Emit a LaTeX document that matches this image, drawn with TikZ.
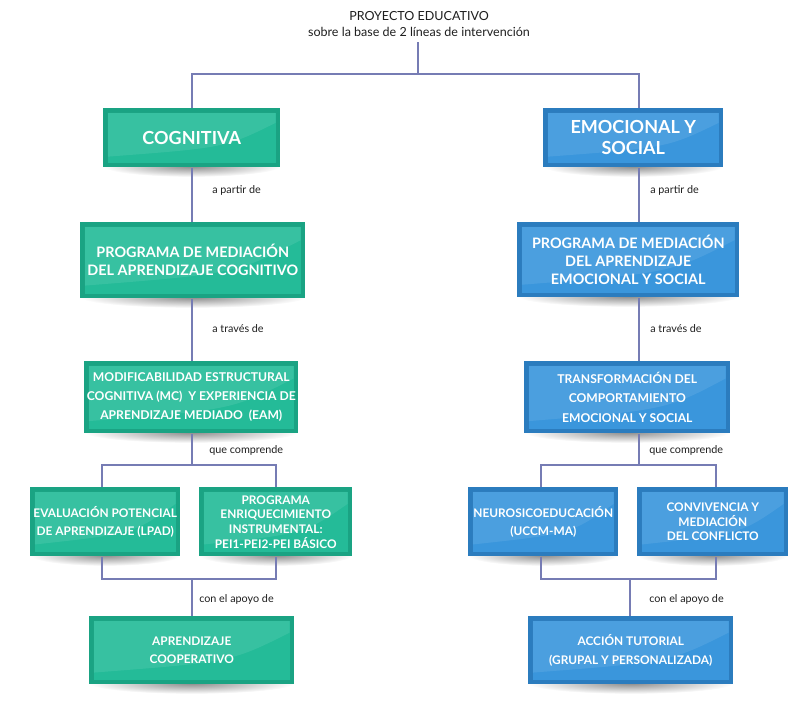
\documentclass[tikz,border=0pt]{standalone}
\usepackage{fontspec}
\setmainfont{Lato}
\usetikzlibrary{calc,backgrounds}
\definecolor{gout}{RGB}{26,163,131}
\definecolor{gin}{RGB}{36,187,152}
\definecolor{bout}{RGB}{43,124,190}
\definecolor{bin}{RGB}{58,150,220}
\definecolor{lc}{RGB}{118,124,180}
\definecolor{tx}{RGB}{30,30,30}
\tikzset{
  box/.style 2 args={rectangle, fill=#1, text=white, align=center, inner sep=0pt, anchor=north west,
    path picture={
      \fill[#2] ([shift={(3.5pt,3.5pt)}]path picture bounding box.south west) rectangle ([shift={(-3.5pt,-3.5pt)}]path picture bounding box.north east);
      \fill[white,opacity=0.09] let \p1=([shift={(3.5pt,3.5pt)}]path picture bounding box.south west), \p2=([shift={(-3.5pt,-3.5pt)}]path picture bounding box.north east) in
        (\x1,\y2) -- (\x2,\y2) -- (\x2,{\y2-0.2*(\y2-\y1)}) .. controls ({\x2-0.3*(\x2-\x1)},{\y1+0.3*(\y2-\y1)}) .. (\x1,{\y1+0.12*(\y2-\y1)}) -- cycle;
    }},
  gbox/.style={box={gout}{gin}},
  bbox/.style={box={bout}{bin}},
  fA/.style={font=\bfseries\fontsize{13.5}{16}\selectfont},
  fB/.style={font=\bfseries\fontsize{10.8}{13.5}\selectfont},
  fC/.style={font=\bfseries\fontsize{9.1}{14.4}\selectfont},
  fD/.style={font=\bfseries\fontsize{8.9}{13.3}\selectfont},
  fE/.style={font=\bfseries\fontsize{8.9}{11}\selectfont},
  fF/.style={font=\bfseries\fontsize{8.9}{14.2}\selectfont},
  lab/.style={anchor=west, font=\fontsize{8.1}{10}\selectfont, text=tx, inner sep=0pt},
  conn/.style={draw=lc, line width=1.2pt},
  shad/.style={inner color=black!45, outer color=white},
}
\newcommand\bx[7]{\node[#2, minimum width={(#5-#3)*0.75pt}, minimum height={(#6-#4)*0.75pt}] (#1) at (#3,#4) {#7};}
\begin{document}
\begin{tikzpicture}[x=0.75pt,y=-0.75pt]
\useasboundingbox (0,0) rectangle (810,717);

\node[font=\fontsize{9.4}{12}\selectfont, text=tx, align=center, inner sep=0pt] (title) at (419,24) {PROYECTO EDUCATIVO\\sobre la base de 2 líneas de intervención};

% left column
\bx{cog}{gbox,fA}{103}{108}{280}{167}{COGNITIVA}
\bx{prog1}{gbox,fB}{80}{222}{305}{298}{PROGRAMA DE MEDIACIÓN\\DEL APRENDIZAJE COGNITIVO}
\bx{mod}{gbox,fC}{84}{361}{298}{433}{MODIFICABILIDAD ESTRUCTURAL\\COGNITIVA (MC)\ \ Y EXPERIENCIA DE\\APRENDIZAJE MEDIADO\ \ (EAM)}
\bx{eva}{gbox,fD}{30}{487}{180}{556}{EVALUACIÓN POTENCIAL\\DE APRENDIZAJE (LPAD)}
\bx{pei}{gbox,fE}{199}{487}{352}{556}{PROGRAMA\\ENRIQUECIMIENTO\\INSTRUMENTAL:\\PEI1-PEI2-PEI BÁSICO}
\bx{coop}{gbox,fF}{89}{616}{294}{684}{APRENDIZAJE\\COOPERATIVO}

% right column
\bx{emo}{bbox,fA}{543}{108}{723}{167}{EMOCIONAL Y\\SOCIAL}
\bx{prog2}{bbox,fB}{517}{222}{739}{297}{PROGRAMA DE MEDIACIÓN\\DEL APRENDIZAJE\\EMOCIONAL Y SOCIAL}
\bx{trans}{bbox,fC}{524}{361}{730}{433}{TRANSFORMACIÓN DEL\\COMPORTAMIENTO\\EMOCIONAL Y SOCIAL}
\bx{neuro}{bbox,fD}{468}{487}{618}{556}{NEUROSICOEDUCACIÓN\\(UCCM-MA)}
\bx{conv}{bbox,fE}{637}{487}{788}{556}{CONVIVENCIA Y\\MEDIACIÓN\\DEL CONFLICTO}
\bx{tut}{bbox,fF}{528}{616}{733}{684}{ACCIÓN TUTORIAL\\(GRUPAL Y PERSONALIZADA)}

% labels
\node[lab] (l1) at (212,190) {a partir de};
\node[lab] (l2) at (650,190) {a partir de};
\node[lab] (l3) at (212,329) {a través de};
\node[lab] (l4) at (650,329) {a través de};
\node[lab] (l5) at (209,450) {que comprende};
\node[lab] (l6) at (649,450) {que comprende};
\node[lab] (l7) at (199,599) {con el apoyo de};
\node[lab] (l8) at (649,599) {con el apoyo de};

% helper coordinates
\coordinate (xL) at (192,0);
\coordinate (xR) at (639,0);
\coordinate (jt) at (418,74);
\coordinate (bl) at (192,465);
\coordinate (br) at (639,465);
\coordinate (cl) at (192,579);
\coordinate (cr) at (630,579);
\coordinate (xa) at (102,0);
\coordinate (xb) at (276,0);
\coordinate (xc) at (541,0);
\coordinate (xd) at (716,0);

\begin{scope}[on background layer]
  \foreach \nm in {cog,prog1,mod,eva,pei,coop,emo,prog2,trans,neuro,conv,tut}{
    \shade[shad] let \p1=($(\nm.east)-(\nm.west)$) in ($(\nm.south)+(0,1pt)$) ellipse [x radius={0.5*\x1}, y radius=8pt];
  }
  \draw[conn] ([yshift=-4pt]title.south -| jt) -- (jt);
  \draw[conn] (cog.north -| xL) |- (jt) -| (emo.north -| xR);
  \draw[conn] (cog.south -| xL) -- (prog1.north -| xL);
  \draw[conn] (prog1.south -| xL) -- (mod.north -| xL);
  \draw[conn] (mod.south -| xL) -- (bl);
  \draw[conn] (eva.north -| xa) |- (bl) -| (pei.north -| xb);
  \draw[conn] (eva.south -| xa) |- (cl) -| (pei.south -| xb);
  \draw[conn] (cl) -- (coop.north -| xL);
  \draw[conn] (emo.south -| xR) -- (prog2.north -| xR);
  \draw[conn] (prog2.south -| xR) -- (trans.north -| xR);
  \draw[conn] (trans.south -| xR) -- (br);
  \draw[conn] (neuro.north -| xc) |- (br) -| (conv.north -| xd);
  \draw[conn] (neuro.south -| xc) |- (cr) -| (conv.south -| xd);
  \draw[conn] (cr) -- (tut.north -| cr);
\end{scope}
\end{tikzpicture}
\end{document}
